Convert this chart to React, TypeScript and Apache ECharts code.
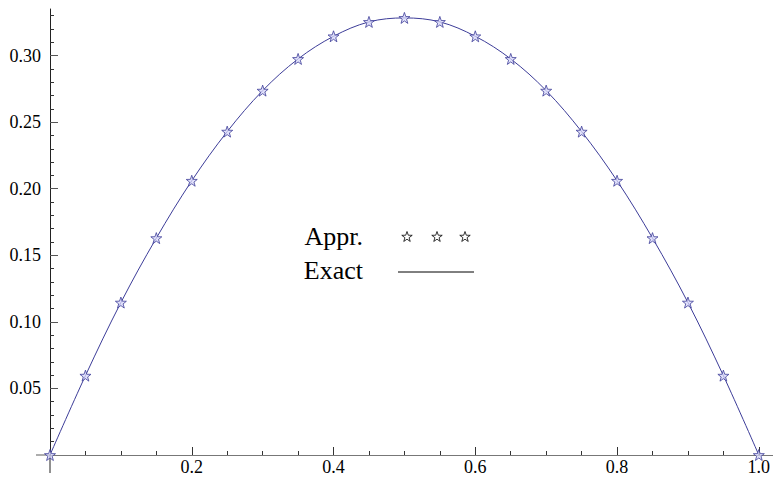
import React, { useEffect, useRef } from "react";
import * as echarts from "echarts";

const xValues = [0, 0.05, 0.1, 0.15, 0.2, 0.25, 0.3, 0.35, 0.4, 0.45, 0.5, 0.55, 0.6, 0.65, 0.7, 0.75, 0.8, 0.85, 0.9, 0.95, 1.0];
const approxValues = [0, 0.0596, 0.1145, 0.1629, 0.206, 0.2429, 0.2737, 0.2975, 0.3145, 0.3253, 0.3283, 0.3253, 0.3145, 0.2975, 0.2737, 0.2429, 0.206, 0.1629, 0.1145, 0.0596, 0];
const xMajorTicks = [0.2, 0.4, 0.6, 0.8, 1.0];
const xMinorTicks = [0.05, 0.1, 0.15, 0.25, 0.3, 0.35, 0.45, 0.5, 0.55, 0.65, 0.7, 0.75, 0.85, 0.9, 0.95];
const yMajorTicks = [0.05, 0.1, 0.15, 0.2, 0.25, 0.3];
const yMinorTicks = [0.01, 0.02, 0.03, 0.04, 0.06, 0.07, 0.08, 0.09, 0.11, 0.12, 0.13, 0.14, 0.16, 0.17, 0.18, 0.19, 0.21, 0.22, 0.23, 0.24, 0.26, 0.27, 0.28, 0.29, 0.31, 0.32, 0.33];
const legendLabels = ["Appr.", "Exact"];

const LINE_COLOR = "#3d3d99";
const FONT = "Liberation Serif";
const STAR_PATH =
  "path://M0,-10 L2.35,-3.24 L9.51,-3.09 L3.80,1.24 L5.88,8.09 L0,4 L-5.88,8.09 L-3.80,1.24 L-9.51,-3.09 L-2.35,-3.24 Z";

const GRID = { left: 50, right: 0, top: 9, bottom: 30 };

function starPoints(cx: number, cy: number, r: number): number[][] {
  const pts: number[][] = [];
  for (let i = 0; i < 10; i++) {
    const rr = i % 2 === 0 ? r : r * 0.4;
    const a = (-90 + i * 36) * (Math.PI / 180);
    pts.push([cx + rr * Math.cos(a), cy + rr * Math.sin(a)]);
  }
  return pts;
}

export default function App() {
  const ref = useRef<HTMLDivElement>(null);
  useEffect(() => {
    if (!ref.current) return;
    const chart = echarts.init(ref.current, null, { renderer: "svg" });
    const data = xValues.map((x, i) => [x, approxValues[i]]);
    const baseX = {
      type: "value",
      min: 0,
      max: 1.02,
      position: "bottom",
      splitLine: { show: false },
    };
    const baseY = {
      type: "value",
      min: 0,
      max: 0.335,
      position: "left",
      splitLine: { show: false },
    };
    const originY = 485 - GRID.bottom;
    const originX = GRID.left;
    const legendStars = [407, 437, 465].map((cx) => ({
      type: "polygon",
      shape: { points: starPoints(cx, 237, 5.5) },
      style: { fill: "#fff", stroke: "#000", lineWidth: 0.8 },
    }));
    chart.setOption({
      animation: false,
      backgroundColor: "#fff",
      grid: { ...GRID, containLabel: false, outerBoundsMode: "none" },
      xAxis: [
        {
          ...baseX,
          axisLine: { show: true, onZero: false, lineStyle: { color: "#777", width: 1.2 } },
          axisTick: { show: true, inside: true, length: 8, customValues: xMajorTicks, lineStyle: { color: "#333" } },
          axisLabel: {
            show: true,
            customValues: xMajorTicks,
            formatter: (v: number) => v.toFixed(1),
            fontFamily: FONT,
            fontSize: 18,
            color: "#000",
            margin: 3,
          },
        },
        {
          ...baseX,
          axisLine: { show: false, onZero: false },
          axisTick: { show: true, inside: true, length: 4, customValues: xMinorTicks, lineStyle: { color: "#333" } },
          axisLabel: { show: false },
        },
      ],
      yAxis: [
        {
          ...baseY,
          axisLine: { show: true, onZero: false, lineStyle: { color: "#222", width: 1 } },
          axisTick: { show: true, inside: true, length: 8, customValues: yMajorTicks, lineStyle: { color: "#555" } },
          axisLabel: {
            show: true,
            customValues: yMajorTicks,
            formatter: (v: number) => v.toFixed(2),
            fontFamily: FONT,
            fontSize: 18,
            color: "#000",
            margin: 9,
          },
        },
        {
          ...baseY,
          axisLine: { show: false, onZero: false },
          axisTick: { show: true, inside: true, length: 4, customValues: yMinorTicks, lineStyle: { color: "#333" } },
          axisLabel: { show: false },
        },
      ],
      series: [
        {
          name: "Exact",
          type: "line",
          xAxisIndex: 0,
          yAxisIndex: 0,
          data,
          smooth: 0.35,
          showSymbol: false,
          clip: false,
          lineStyle: { color: LINE_COLOR, width: 1 },
          z: 2,
        },
        {
          name: "Appr.",
          type: "scatter",
          xAxisIndex: 0,
          yAxisIndex: 0,
          data,
          clip: false,
          symbol: STAR_PATH,
          symbolSize: 11,
          itemStyle: { color: "rgba(215,215,250,0.9)", borderColor: LINE_COLOR, borderWidth: 1 },
          z: 3,
        },
      ],
      graphic: [
        {
          type: "line",
          shape: { x1: 36, y1: originY, x2: originX, y2: originY },
          style: { stroke: "#777", lineWidth: 1.2 },
          z: 1,
        },
        {
          type: "line",
          shape: { x1: originX, y1: originY, x2: originX, y2: 473 },
          style: { stroke: "#222", lineWidth: 1 },
          z: 1,
        },
        {
          type: "text",
          x: 363,
          y: 236,
          style: { text: legendLabels[0], font: `26px ${FONT}`, fill: "#000", align: "right", verticalAlign: "middle" },
        },
        {
          type: "text",
          x: 363,
          y: 270,
          style: { text: legendLabels[1], font: `26px ${FONT}`, fill: "#000", align: "right", verticalAlign: "middle" },
        },
        ...legendStars,
        {
          type: "line",
          shape: { x1: 398, y1: 272, x2: 474, y2: 272 },
          style: { stroke: "#000", lineWidth: 1 },
        },
      ],
    });
    return () => chart.dispose();
  }, []);
  return (
    <div
      ref={ref}
      style={{ position: "fixed", left: 0, top: 0, width: 773, height: 485 }}
    />
  );
}
